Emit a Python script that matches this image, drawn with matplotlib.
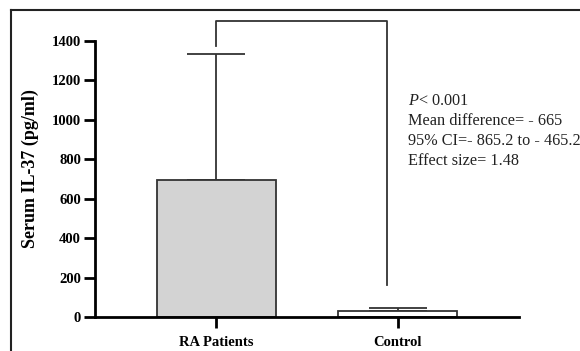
import matplotlib.pyplot as plt
import numpy as np

# group means and SD
groups = ['RA Patients', 'Control']
means = [695, 30]
sds = [640, 16]
bar_colors = ['#d3d3d3', 'white']
stats_lines = [r'$P$< 0.001', 'Mean difference= - 665',
               '95% CI=- 865.2 to - 465.2', 'Effect size= 1.48']
bracket_y = 1502
bracket_ends = [1376, 162]

plt.rcParams['font.family'] = ['Liberation Serif', 'DejaVu Serif']
plt.rcParams['mathtext.fontset'] = 'custom'
plt.rcParams['mathtext.rm'] = 'Liberation Serif'
plt.rcParams['mathtext.it'] = 'Liberation Serif:italic'

fig = plt.figure(figsize=(5.8, 3.51), dpi=100)
ax = fig.add_axes([0.1638, 0.0969, 0.731, 0.848])

x = np.arange(len(groups))
ax.bar(x, means, width=0.66, color=bar_colors, edgecolor='#333333', linewidth=1.3, zorder=2)
ax.errorbar(x, means, yerr=[np.zeros(len(sds)), sds], fmt='none', ecolor='#333333',
            elinewidth=1.3, capsize=21, capthick=1.3, zorder=1)

# significance bracket
ax.plot([0, 0, 0.94, 0.94], [bracket_ends[0], bracket_y, bracket_y, bracket_ends[1]],
        color='#333333', lw=1.3, clip_on=False)

ax.text(1.06, 1135, '\n'.join(stats_lines), fontsize=11.7, va='top', ha='left',
        linespacing=1.33, color='#222222', clip_on=False)

ax.set_xlim(-0.67, 1.67)
ax.set_ylim(0, 1510)
ax.set_yticks(range(0, 1401, 200))
ax.spines['left'].set_bounds(0, 1400)
ax.spines['top'].set_visible(False)
ax.spines['right'].set_visible(False)
for s in ['left', 'bottom']:
    ax.spines[s].set_linewidth(2)
ax.set_xticks(x)
ax.set_xticklabels(groups, fontweight='bold', fontsize=10.5)
for lab in ax.get_yticklabels():
    lab.set_fontweight('bold')
    lab.set_fontsize(10.5)
ax.tick_params(axis='both', direction='out', length=8, width=2)
ax.tick_params(axis='y', pad=2)
ax.tick_params(axis='x', pad=6)
ax.set_ylabel('Serum IL-37 (pg/ml)', fontsize=13, fontweight='bold', labelpad=9)

# outer frame (right and bottom edges fall outside the crop)
fig.add_artist(plt.Line2D([11/580, 11/580], [0, 1 - 10/351], color='#222222', lw=1.5))
fig.add_artist(plt.Line2D([11/580, 1], [1 - 10/351, 1 - 10/351], color='#222222', lw=1.5))

plt.savefig('out.png', dpi=100)
